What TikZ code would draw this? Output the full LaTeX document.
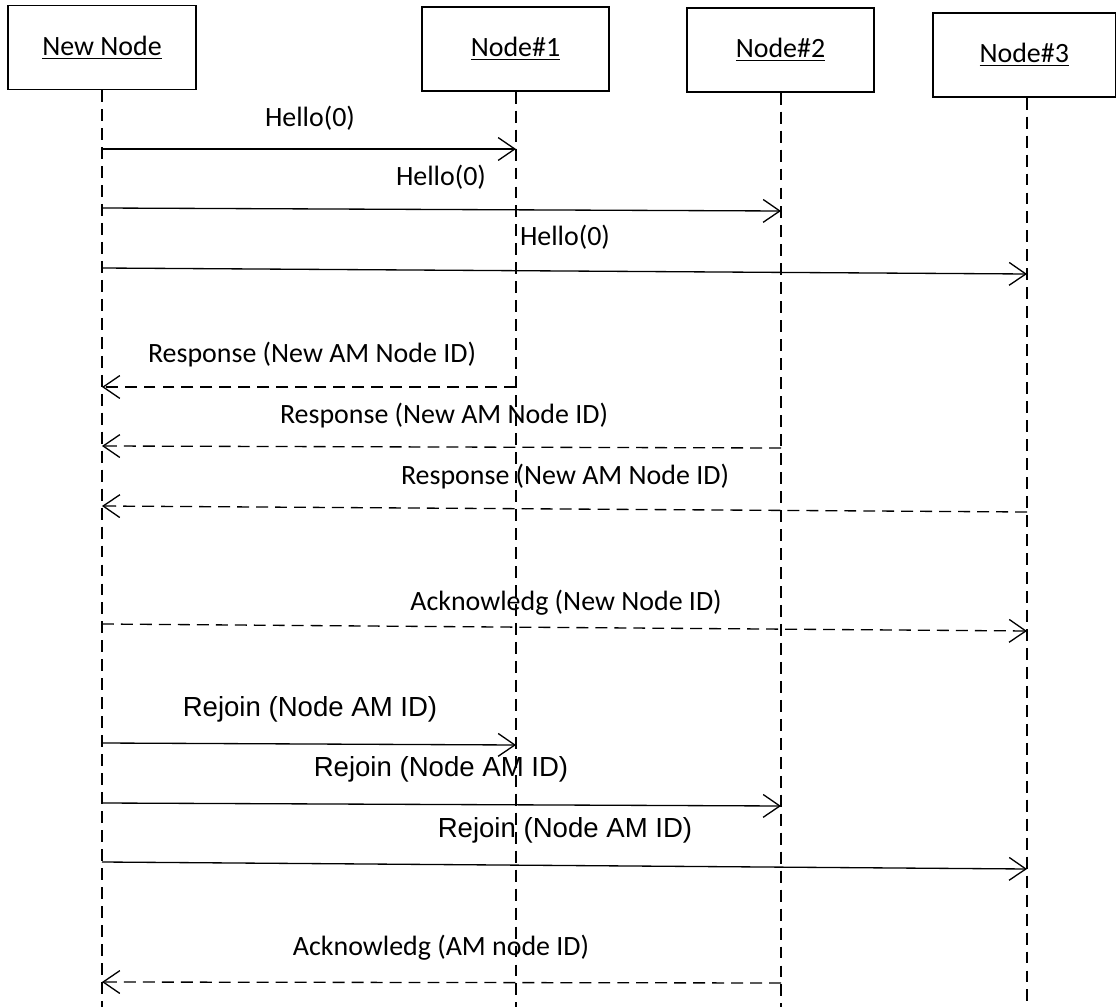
\documentclass[tikz,border=0pt]{standalone}
\usepackage{fontspec}
\setmainfont{Carlito}
\newfontfamily\arialfont{Liberation Sans}
\usetikzlibrary{arrows.meta}
\begin{document}
\begin{tikzpicture}[x=0.02cm,y=-0.02cm,
  every node/.style={font=\fontsize{15.9}{19}\selectfont, inner sep=0pt},
  objbox/.style={draw, line width=0.75pt, minimum height=1.68cm},
  lifeline/.style={line width=0.75pt, dash pattern=on 6.8pt off 4pt},
  msg/.style={line width=0.75pt, -{Straight Barb[length=9.5pt,width=13pt,line width=0.75pt]}},
  reply/.style={msg, dash pattern=on 6.8pt off 4pt},
  rlbl/.style={font=\arialfont\fontsize{15.7}{19}\selectfont}]
\useasboundingbox (0,0) rectangle (1117,1007);

% participants
\node[objbox, minimum width=3.76cm] (nn) at (102,47.5) {\underline{New Node}};
\node[objbox, minimum width=3.74cm] (n1) at (515.5,49) {\underline{Node\#1}};
\node[objbox, minimum width=3.74cm] (n2) at (780.5,50) {\underline{Node\#2}};
\node[objbox, minimum width=3.65cm] (n3) at (1024.25,55) {\underline{Node\#3}};

% lifeline ends
\coordinate (nnE) at (102,1007);
\coordinate (n1E) at (516,1007);
\coordinate (n2E) at (781,1007);
\coordinate (n3E) at (1027,1007);
\draw[lifeline] (nn.south) -- (nnE);
\draw[lifeline] (n1E |- n1.south) -- (n1E);
\draw[lifeline] (n2E |- n2.south) -- (n2E);
\draw[lifeline] (n3E |- n3.south) -- (n3E);

% message end points on the lifelines
\coordinate (h1a) at (102,149);  \coordinate (h1b) at (516,149);
\coordinate (h2a) at (102,208);  \coordinate (h2b) at (781,211);
\coordinate (h3a) at (102,268);  \coordinate (h3b) at (1027,274);
\coordinate (r1a) at (516,387);  \coordinate (r1b) at (102,387);
\coordinate (r2a) at (781,448);  \coordinate (r2b) at (102,446);
\coordinate (r3a) at (1027,512); \coordinate (r3b) at (102,506);
\coordinate (k1a) at (102,624);  \coordinate (k1b) at (1027,631);
\coordinate (j1a) at (102,743);  \coordinate (j1b) at (516,745);
\coordinate (j2a) at (102,803);  \coordinate (j2b) at (781,806);
\coordinate (j3a) at (102,862);  \coordinate (j3b) at (1027,869);
\coordinate (k2a) at (781,983);  \coordinate (k2b) at (102,982);

% Hello broadcast
\draw[msg] (h1a) -- (h1b);
\draw[msg] (h2a) -- (h2b);
\draw[msg] (h3a) -- (h3b);
\node (lh1) at (310,118) {Hello(0)};
\node (lh2) at (441,177) {Hello(0)};
\node (lh3) at (565,237) {Hello(0)};

% responses
\draw[reply] (r1a) -- (r1b);
\draw[reply] (r2a) -- (r2b);
\draw[reply] (r3a) -- (r3b);
\node (lr1) at (312,355) {Response (New AM Node ID)};
\node (lr2) at (444,416) {Response (New AM Node ID)};
\node (lr3) at (565,477) {Response (New AM Node ID)};

% acknowledgement to Node#3
\draw[reply] (k1a) -- (k1b);
\node (lk1) at (566,603) {Acknowledg (New Node ID)};

% rejoin
\draw[msg] (j1a) -- (j1b);
\draw[msg] (j2a) -- (j2b);
\draw[msg] (j3a) -- (j3b);
\node[rlbl] (lj1) at (310,709) {Rejoin (Node AM ID)};
\node[rlbl] (lj2) at (441,769) {Rejoin (Node AM ID)};
\node[rlbl] (lj3) at (565,830) {Rejoin (Node AM ID)};

% final acknowledgement
\draw[reply] (k2a) -- (k2b);
\node (lk2) at (441,948) {Acknowledg (AM node ID)};
\end{tikzpicture}
\end{document}
